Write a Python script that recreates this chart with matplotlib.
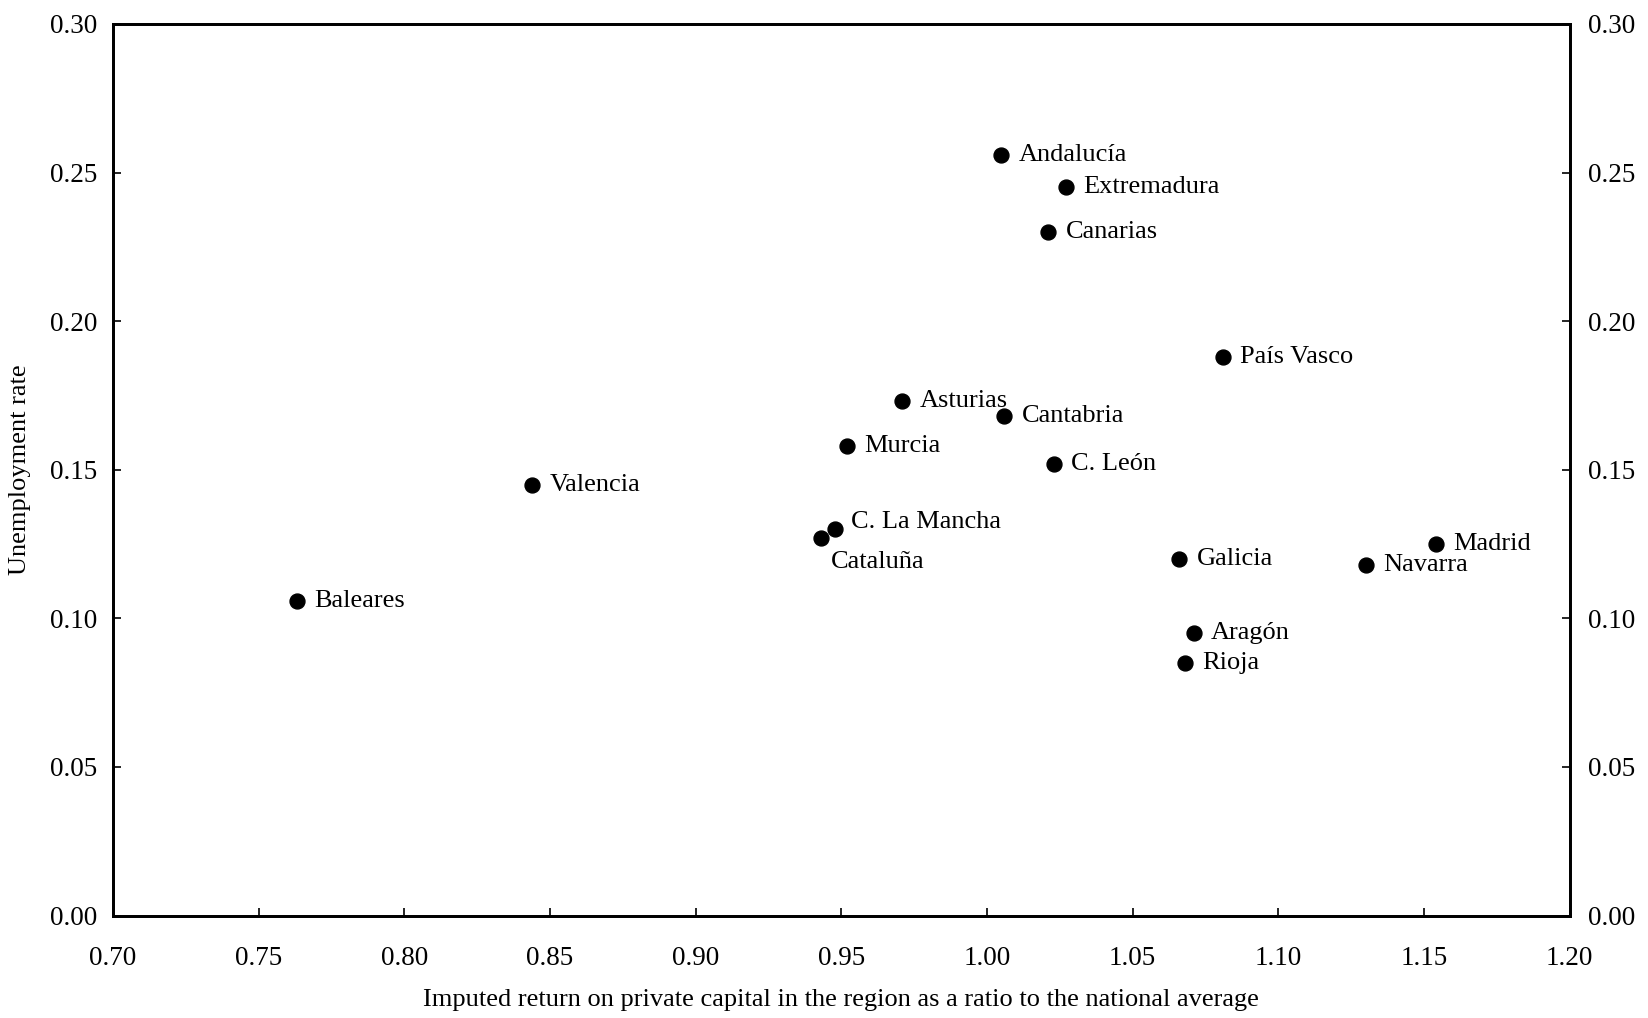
import matplotlib
matplotlib.use("Agg")
import matplotlib.pyplot as plt
import numpy as np

plt.rcParams['font.family'] = ['Liberation Serif', 'DejaVu Serif']

regions = ["Andalucía", "Extremadura", "Canarias", "País Vasco", "Asturias",
           "Cantabria", "Murcia", "C. León", "Valencia", "C. La Mancha",
           "Cataluña", "Baleares", "Galicia", "Madrid", "Navarra",
           "Aragón", "Rioja"]
capital_return = [1.005, 1.027, 1.021, 1.081, 0.971,
                  1.006, 0.952, 1.023, 0.844, 0.948,
                  0.943, 0.763, 1.066, 1.154, 1.130,
                  1.071, 1.068]
unemployment = [0.256, 0.245, 0.230, 0.188, 0.173,
                0.168, 0.158, 0.152, 0.145, 0.130,
                0.127, 0.106, 0.120, 0.125, 0.118,
                0.095, 0.085]

xticks = np.arange(0.70, 1.201, 0.05)
yticks = np.arange(0.00, 0.301, 0.05)

fig = plt.figure(figsize=(16.48, 10.18), dpi=100)
ax = fig.add_axes([113/1648, 1 - 915.5/1018, (1569.5 - 113)/1648, (915.5 - 24)/1018])

ax.scatter(capital_return, unemployment, s=115, color='black', zorder=3)

# labels sit to the right of each dot, except the crowded pair near 0.945
offsets = {"Cataluña": (7.5, -17), "C. La Mancha": (11.5, 5)}
for name, x, y in zip(regions, capital_return, unemployment):
    dx, dy = offsets.get(name, (12.5, 0))
    ax.annotate(name, (x, y), xytext=(dx, dy), textcoords='offset points',
                ha='left', va='center', fontsize=19)

ax.set_xlim(0.70, 1.20)
ax.set_ylim(0.00, 0.30)
ax.set_xticks(xticks)
ax.set_yticks(yticks)
ax.set_xticklabels([f"{t:.2f}" for t in xticks])
ax.set_yticklabels([f"{t:.2f}" for t in yticks])
ax.tick_params(axis='both', direction='in', length=6, width=1.2, labelsize=19.5)
ax.tick_params(axis='x', pad=22)
ax.tick_params(axis='y', pad=11)
for sp in ax.spines.values():
    sp.set_linewidth(2)

ax.set_xlabel("Imputed return on private capital in the region as a ratio to the national average",
              fontsize=19, labelpad=13)
ax.set_ylabel("Unemployment rate", fontsize=19, labelpad=14)

ax2 = ax.twinx()
ax2.set_ylim(0.00, 0.30)
ax2.set_yticks(yticks)
ax2.set_yticklabels([f"{t:.2f}" for t in yticks])
ax2.tick_params(axis='y', direction='in', length=6, width=1.2, labelsize=19.5, pad=13)
for sp in ax2.spines.values():
    sp.set_linewidth(2)

fig.savefig("out.png", dpi=100)
